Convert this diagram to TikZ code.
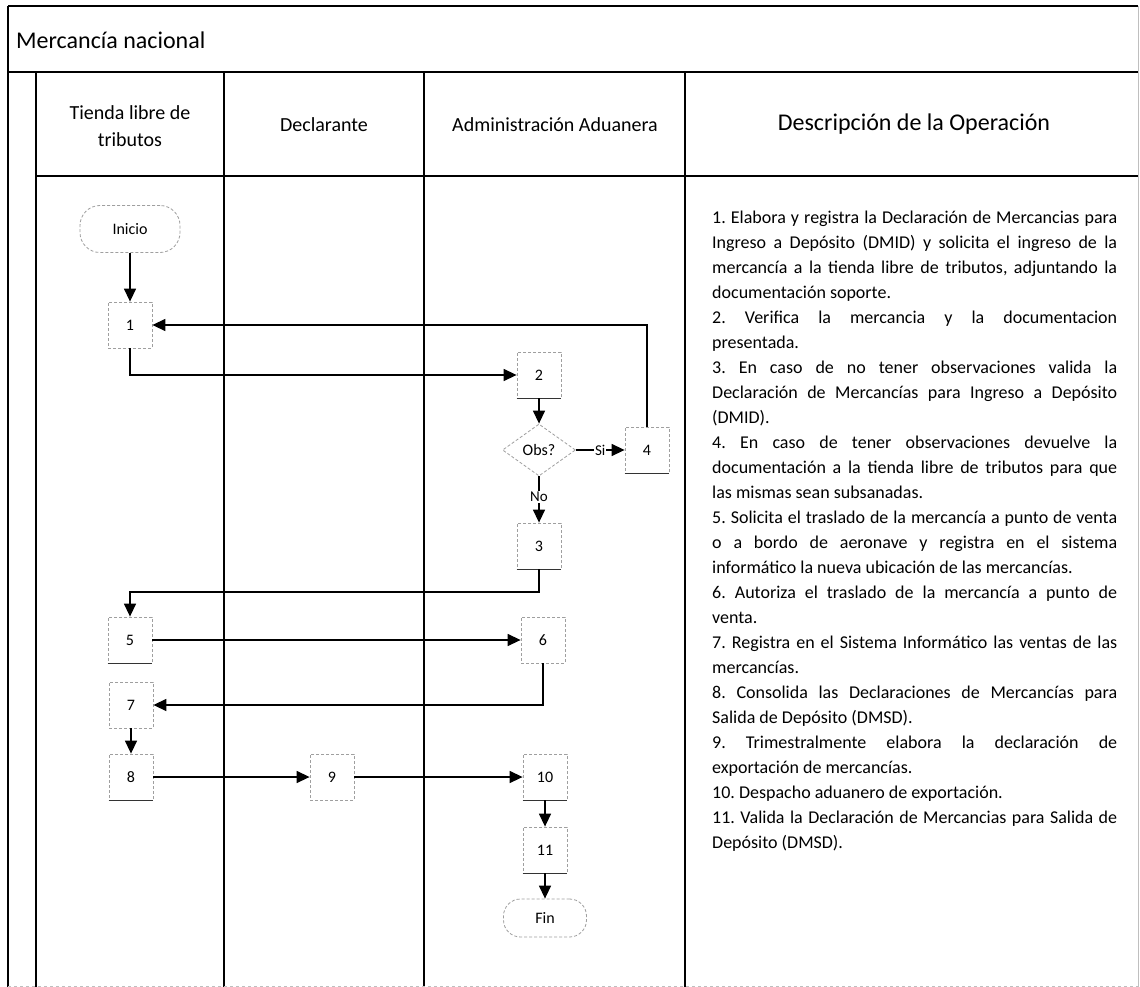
\documentclass[tikz,border=0pt]{standalone}
\usepackage{fontspec}
\setmainfont{Carlito}
\usetikzlibrary{arrows.meta,shapes.geometric}
\begin{document}
\begin{tikzpicture}[x=1pt,y=-1pt,
  frame/.style={line width=1.1pt, black},
  lane/.style={line width=1.1pt, black},
  boxline/.style={draw=gray!75, dash pattern=on 3pt off 2pt, line width=0.8pt},
  stepbox/.style={boxline, minimum width=44pt, minimum height=46pt, inner sep=0pt, font=\fontsize{16}{18}\selectfont},
  term/.style={boxline, rounded corners=20pt, inner sep=0pt, font=\fontsize{16}{18}\selectfont},
  decision/.style={boxline, diamond, minimum width=73pt, minimum height=52pt, inner sep=0pt, font=\fontsize{16}{18}\selectfont},
  flow/.style={line width=1.4pt, -{Triangle[length=13pt,width=12pt]}},
  lbl/.style={fill=white, inner sep=1pt, font=\fontsize{15}{17}\selectfont},
  head/.style={font=\fontsize{20}{27}\selectfont, align=center, inner sep=0pt},
  shade/.style={line width=0.9pt, gray!40!black},
]
\fill[white] (0,0) rectangle (1140,987);
\path[use as bounding box] (0,0) rectangle (1140,987);

% frame and lanes
\draw[frame] (8,6) -- (1138,6);
\draw[frame] (8,6) -- (8,987);
\draw[frame] (8,72) -- (1138,72);
\draw[frame] (36,176) -- (1138,176);
\draw[lane] (36,72) -- (36,987);
\draw[lane] (224,72) -- (224,987);
\draw[lane] (424,72) -- (424,987);
\draw[lane] (685,72) -- (685,987);
\draw[line width=0.6pt, gray!50] (1138,6) -- (1138,987);
\draw[line width=0.6pt, gray!50, dashed] (8,986) -- (1138,986);

% headers
\node[anchor=west, inner sep=0pt, font=\fontsize{24}{28}\selectfont] (title) at (16,40) {Mercancía nacional};
\node[head] (h1) at (130,126) {Tienda libre de\\tributos};
\node[head] (h2) at (324,125) {Declarante};
\node[head] (h3) at (555,125) {Administración Aduanera};
\node[head, font=\fontsize{24}{28}\selectfont] (h4) at (914,124) {Descripción de la Operación};

% flow nodes
\node[term, minimum width=100pt, minimum height=47pt] (inicio) at (130,229) {Inicio};
\node[stepbox] (n1) at (130,325) {1};
\node[stepbox] (n2) at (539,375) {2};
\node[decision] (obs) at (539,450) {Obs?};
\node[stepbox] (n4) at (647,450) {4};
\node[stepbox] (n3) at (539,546) {3};
\node[stepbox] (n5) at (130,640) {5};
\node[stepbox] (n6) at (543,640) {6};
\node[stepbox] (n7) at (131,705) {7};
\node[stepbox] (n8) at (131,777) {8};
\node[stepbox] (n9) at (332,777) {9};
\node[stepbox] (n10) at (545,777) {10};
\node[stepbox] (n11) at (545,850) {11};
\node[term, minimum width=83pt, minimum height=38pt, rounded corners=17pt] (fin) at (545,918) {Fin};

\foreach \n in {n2,n3,n4,n5,n8,n10,n11}
  \draw[shade] (\n.south west) -- (\n.south east);

% connectors
\coordinate (k35) at (0,592);
\draw[flow] (inicio) -- (n1);
\draw[flow] (n1.south) |- (n2.west);
\draw[flow] (n2) -- (obs);
\draw[flow] (obs) -- node[lbl] {Si} (n4);
\draw[flow] (n4.north) |- (n1.east);
\draw[flow] (obs) -- node[lbl, pos=0.45] {No} (n3);
\draw[flow] (n3.south) -- (n3.south |- k35) -| (n5.north);
\draw[flow] (n5) -- (n6);
\draw[flow] (n6.south) |- (n7.east);
\draw[flow] (n7) -- (n8);
\draw[flow] (n8) -- (n9);
\draw[flow] (n9) -- (n10);
\draw[flow] (n10) -- (n11);
\draw[flow] (n11) -- (fin);

% description
\node[anchor=north west, inner sep=0pt, text width=405pt, align=justify,
      font=\fontsize{18}{25}\selectfont] (desc) at (712,211) {%
\setlength{\parindent}{0pt}\frenchspacing
1. Elabora y registra la Declaración de Mercancias para\linebreak
Ingreso a Depósito (DMID) y solicita el ingreso de la\linebreak
mercancía a la tienda libre de tributos, adjuntando la\linebreak
documentación soporte.\par
2. Verifica la mercancia y la documentacion\linebreak
presentada.\par
3. En caso de no tener observaciones valida la\linebreak
Declaración de Mercancías para Ingreso a Depósito\linebreak
(DMID).\par
4. En caso de tener observaciones devuelve la\linebreak
documentación a la tienda libre de tributos para que\linebreak
las mismas sean subsanadas.\par
5. Solicita el traslado de la mercancía a punto de venta\linebreak
o a bordo de aeronave y registra en el sistema\linebreak
informático la nueva ubicación de las mercancías.\par
6. Autoriza el traslado de la mercancía a punto de\linebreak
venta.\par
7. Registra en el Sistema Informático las ventas de las\linebreak
mercancías.\par
8. Consolida las Declaraciones de Mercancías para\linebreak
Salida de Depósito (DMSD).\par
9. Trimestralmente elabora la declaración de\linebreak
exportación de mercancías.\par
10. Despacho aduanero de exportación.\par
11. Valida la Declaración de Mercancias para Salida de\linebreak
Depósito (DMSD).};
\end{tikzpicture}
\end{document}
